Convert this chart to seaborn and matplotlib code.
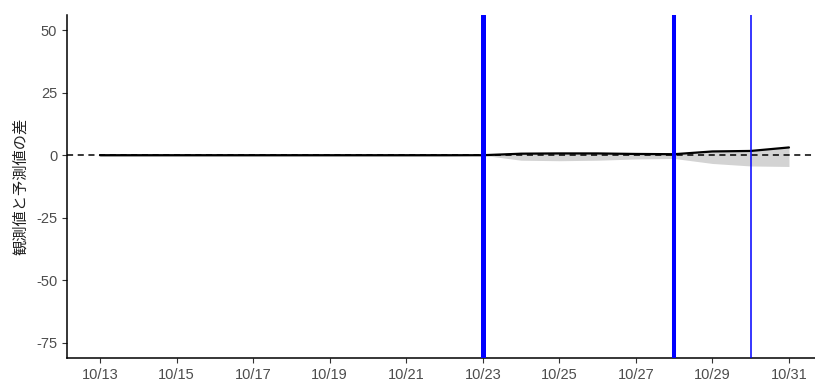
"""Observed vs predicted difference with intervention markers"""
import seaborn as sns
import matplotlib.pyplot as plt
import pandas as pd

sns.set_theme(style='ticks')
plt.rcParams['font.family'] = ['Liberation Sans', 'Noto Sans CJK JP', 'DejaVu Sans']
plt.rcParams['axes.unicode_minus'] = False

dates = pd.date_range('2023-10-13', '2023-10-31', freq='D')
diff = [0.0, 0.0, 0.0, 0.0, 0.0, 0.0, 0.0, 0.0, 0.0, 0.0, 0.0,
        0.6, 0.7, 0.7, 0.5, 0.4, 1.5, 1.7, 3.1]
lower = [-0.4, -0.4, -0.4, -0.4, -0.4, -0.4, -0.4, -0.4, -0.4, -0.4, 0.0,
         -2.0, -2.2, -2.0, -1.5, -1.3, -3.3, -4.3, -4.5]
upper = [0.4, 0.4, 0.4, 0.4, 0.4, 0.4, 0.4, 0.4, 0.4, 0.4, 0.0,
         1.2, 1.3, 1.2, 0.9, 0.7, 1.8, 2.0, 3.1]
events = ['2023-10-23', '2023-10-28', '2023-10-30']
event_widths = [3.6, 2.9, 1.1]
yticks = [50, 25, 0, -25, -50, -75]

df = pd.DataFrame({'date': dates, 'diff': diff, 'lower': lower, 'upper': upper})

fig = plt.figure(figsize=(8.15, 3.83), dpi=100)
ax = fig.add_axes([0.0822, 0.0653, 0.9178, 0.8955])

ax.fill_between(df['date'], df['lower'], df['upper'], color='#d3d3d3', lw=0, zorder=1)
ax.axhline(0, color='black', lw=1.1, ls=(0, (4, 3)), zorder=2)
sns.lineplot(data=df, x='date', y='diff', color='black', lw=1.6, ax=ax, zorder=3)
for d, w in zip(events, event_widths):
    ax.axvline(pd.Timestamp(d), color='#0000ff', lw=w, zorder=4)

ax.set_xlim(dates[0] - pd.Timedelta(days=0.862), dates[-1] + pd.Timedelta(days=0.68))
ax.set_ylim(-81, 56)
ax.set_yticks(yticks)
ax.set_xticks(dates[::2])
ax.set_xticklabels([f'{d.month}/{d.day}' for d in dates[::2]])

ax.set_xlabel('')
ax.set_ylabel('観測値と予測値の差', fontsize=11, color='#222222', labelpad=5,
              family=['Noto Sans CJK JP', 'DejaVu Sans'])
ax.tick_params(axis='both', colors='#333333', labelcolor='#4d4d4d', labelsize=10.5,
               length=3.5, width=0.8)
ax.tick_params(axis='x', pad=4)
for s in ['top', 'right']:
    ax.spines[s].set_visible(False)
for s in ['left', 'bottom']:
    ax.spines[s].set_linewidth(1.1)
    ax.spines[s].set_color('black')

fig.savefig('out.png', dpi=100, facecolor='white')
